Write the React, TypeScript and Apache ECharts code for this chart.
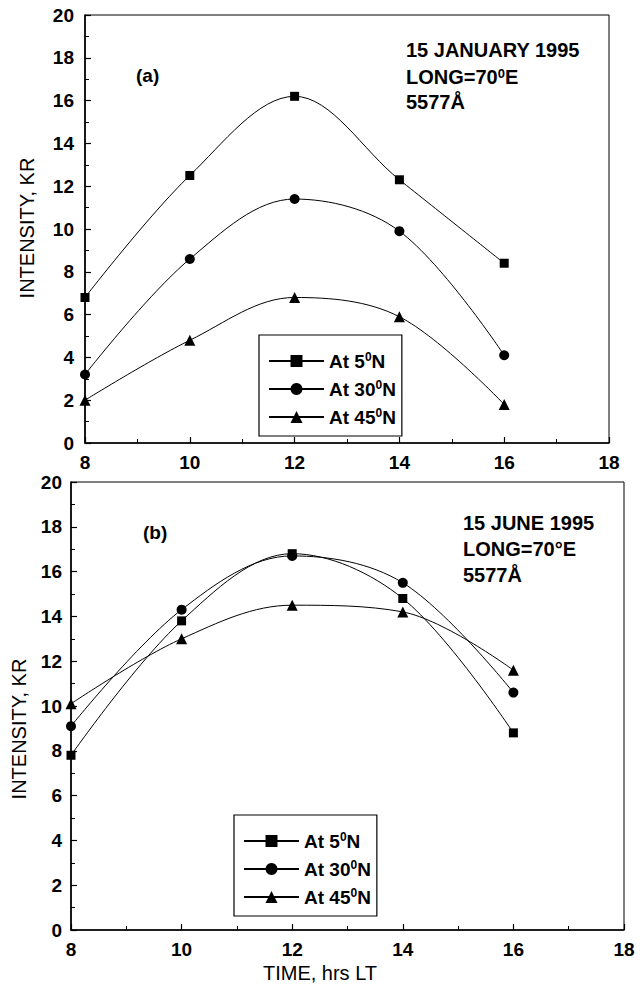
import React, { useEffect, useRef } from "react";
import * as echarts from "echarts";

const hours = [8, 10, 12, 14, 16];
const seriesNames = ["At 5⁰N", "At 30⁰N", "At 45⁰N"];
const janSquare = [6.8, 12.5, 16.2, 12.3, 8.4];
const janCircle = [3.2, 8.6, 11.4, 9.9, 4.1];
const janTriangle = [2.0, 4.8, 6.8, 5.9, 1.8];
const junSquare = [7.8, 13.8, 16.8, 14.8, 8.8];
const junCircle = [9.1, 14.3, 16.7, 15.5, 10.6];
const junTriangle = [10.1, 13.0, 14.5, 14.2, 11.6];
const xTicks = { min: 8, max: 18, interval: 2 };
const yTicks = { min: 0, max: 20, interval: 2 };

const symbols = ["rect", "circle", "triangle"];
const symbolSizes = [9, 10, 11];

const FONT = "'Liberation Sans', Arial, Helvetica, sans-serif";

const pairs = (vals: number[]) => hours.map((h, i) => [h, vals[i]]);

function axisX(gridIndex: number) {
  return {
    type: "value",
    gridIndex,
    min: xTicks.min,
    max: xTicks.max,
    interval: xTicks.interval,
    axisLine: { show: true, onZero: false, lineStyle: { color: "#000", width: 1.6 } },
    axisTick: { show: true, inside: true, length: 6, lineStyle: { color: "#000", width: 1.2 } },
    minorTick: { show: true, splitNumber: 2, length: 4, lineStyle: { color: "#000", width: 1 } },
    splitLine: { show: false },
    axisLabel: { color: "#000", fontSize: 19, fontWeight: "bold", fontFamily: FONT, margin: 10 },
  };
}

function axisY(gridIndex: number, margin: number) {
  return {
    type: "value",
    gridIndex,
    min: yTicks.min,
    max: yTicks.max,
    interval: yTicks.interval,
    axisLine: { show: true, onZero: false, lineStyle: { color: "#000", width: 1.6 } },
    axisTick: { show: true, inside: true, length: 6, lineStyle: { color: "#000", width: 1.2 } },
    minorTick: { show: true, splitNumber: 2, length: 4, lineStyle: { color: "#000", width: 1 } },
    splitLine: { show: false },
    axisLabel: { color: "#000", fontSize: 19, fontWeight: "bold", fontFamily: FONT, margin },
  };
}

function makeSeries(vals: number[], idx: number, panel: number) {
  return {
    type: "line",
    name: seriesNames[idx],
    xAxisIndex: panel,
    yAxisIndex: panel,
    data: pairs(vals),
    smooth: 0.35,
    symbol: symbols[idx],
    symbolSize: symbolSizes[idx],
    itemStyle: { color: "#000" },
    lineStyle: { color: "#000", width: 1 },
    clip: false,
    z: 3,
  };
}

const supRich = {
  sup: { fontSize: 12, fontWeight: "bold", fontFamily: FONT, color: "#000", verticalAlign: "top", lineHeight: 12 },
};

function legendCfg(left: number, top: number) {
  return {
    orient: "vertical",
    left,
    top,
    data: seriesNames,
    backgroundColor: "#fff",
    borderColor: "#000",
    borderWidth: 1.2,
    padding: [16, 6, 9, 9],
    itemGap: 8,
    itemWidth: 55,
    itemHeight: 15,
    selectedMode: false,
    formatter: (name: string) => name.replace("⁰", "{sup|0}"),
    textStyle: {
      color: "#000",
      fontSize: 19,
      fontWeight: "bold",
      fontFamily: FONT,
      lineHeight: 20,
      rich: supRich,
    },
  };
}

function textEl(text: string, x: number, y: number, size: number, bold: boolean, extra: any = {}) {
  return {
    type: "text",
    x,
    y,
    z: 10,
    ...extra,
    style: {
      text,
      fill: "#000",
      fontSize: size,
      fontWeight: bold ? "bold" : "normal",
      fontFamily: FONT,
      verticalAlign: "middle",
      align: extra.align || "left",
      rich: {
        sup: { fontSize: 13, fontWeight: "bold", fontFamily: FONT, fill: "#000", verticalAlign: "top", lineHeight: 12 },
      },
      lineHeight: 21,
    },
  };
}

export default function App() {
  const ref = useRef<HTMLDivElement>(null);
  useEffect(() => {
    if (!ref.current) return;
    const chart = echarts.init(ref.current, null, { renderer: "svg" });
    chart.setOption({
      animation: false,
      backgroundColor: "#fff",
      grid: [
        { left: 85, top: 15, width: 524, height: 428, show: true, borderColor: "#000", borderWidth: 1, backgroundColor: "transparent" },
        { left: 71, top: 482, width: 553, height: 448, show: true, borderColor: "#000", borderWidth: 1, backgroundColor: "transparent" },
      ],
      xAxis: [axisX(0), axisX(1)],
      yAxis: [axisY(0, 11), axisY(1, 9)],
      legend: [legendCfg(259, 335), legendCfg(234, 815)],
      series: [
        makeSeries(janSquare, 0, 0),
        makeSeries(janCircle, 1, 0),
        makeSeries(janTriangle, 2, 0),
        makeSeries(junSquare, 0, 1),
        makeSeries(junCircle, 1, 1),
        makeSeries(junTriangle, 2, 1),
      ],
      graphic: [
        textEl("(a)", 136, 75, 19, true),
        textEl("15 JANUARY 1995", 406, 50, 20, true),
        textEl("LONG=70{sup|0}E", 406, 77, 20, true),
        textEl("5577Å", 406, 102, 20, true),
        textEl("(b)", 143, 532, 19, true),
        textEl("15 JUNE 1995", 463, 523, 20, true),
        textEl("LONG=70°E", 463, 549, 20, true),
        textEl("5577Å", 463, 575, 20, true),
        textEl("INTENSITY, KR", 27, 228, 20, false, { rotation: Math.PI / 2, align: "center" }),
        textEl("INTENSITY, KR", 19, 729, 20, false, { rotation: Math.PI / 2, align: "center" }),
        textEl("TIME, hrs LT", 320, 973, 20, false, { align: "center" }),
      ],
    });
    return () => chart.dispose();
  }, []);
  return (
    <div
      ref={ref}
      style={{ position: "absolute", left: 0, top: 0, width: 644, height: 985, background: "#fff" }}
    />
  );
}
